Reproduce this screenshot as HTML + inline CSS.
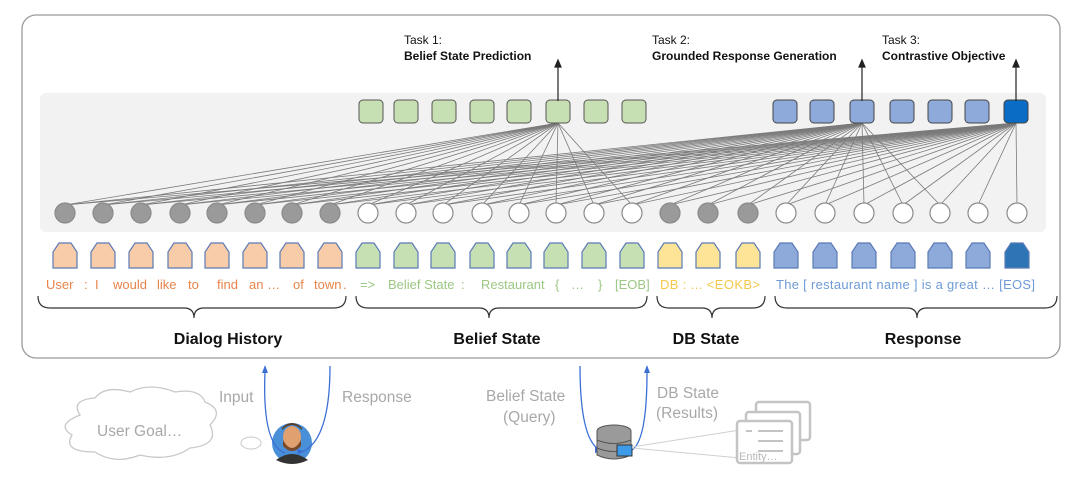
<!DOCTYPE html>
<html><head><meta charset="utf-8"><style>
html,body{margin:0;padding:0;background:#fff;}
svg{display:block;font-family:"Liberation Sans",sans-serif;}
</style></head><body>
<svg id="s" width="1080" height="479" viewBox="0 0 1080 479" xmlns="http://www.w3.org/2000/svg">
<rect x="22" y="15" width="1038" height="343" rx="14" fill="#fff" stroke="#9a9a9a" stroke-width="1.3"/>
<rect x="40" y="93" width="1006" height="139" rx="6" fill="#f2f2f2"/>
<g id="lines" stroke="#7a7a7a" stroke-width="0.8" fill="none"></g>
<g id="shapes"></g>
<g stroke="#222" stroke-width="1.2" fill="#222">
<line x1="558" y1="101" x2="558" y2="66"/><path d="M555,67 L558,60 L561,67Z"/>
<line x1="862" y1="101" x2="862" y2="66"/><path d="M859,67 L862,60 L865,67Z"/>
<line x1="1016" y1="101" x2="1016" y2="66"/><path d="M1013,67 L1016,60 L1019,67Z"/>
</g>
<g font-size="12" fill="#111">
<text x="404" y="44">Task 1:</text><text x="404" y="60" font-weight="bold">Belief State Prediction</text>
<text x="652" y="44">Task 2:</text><text x="652" y="60" font-weight="bold">Grounded Response Generation</text>
<text x="882" y="44">Task 3:</text><text x="882" y="60" font-weight="bold">Contrastive Objective</text>
</g>
<g font-size="13">
<text y="289" fill="#e8844a" xml:space="preserve"><tspan x="46">User</tspan><tspan x="84">:</tspan><tspan x="95">I</tspan><tspan x="113">would</tspan><tspan x="157">like</tspan><tspan x="188">to</tspan><tspan x="217">find</tspan><tspan x="249">an …</tspan><tspan x="293">of</tspan><tspan x="314">town</tspan><tspan x="343">.</tspan></text>
<text y="289" fill="#9cc784" xml:space="preserve"><tspan x="360">=&gt;</tspan><tspan x="388">Belief State</tspan><tspan x="461">:</tspan><tspan x="481">Restaurant</tspan><tspan x="555">{</tspan><tspan x="571">…</tspan><tspan x="598">}</tspan><tspan x="615">[EOB]</tspan></text>
<text x="660" y="289" fill="#f3c94c" textLength="100" lengthAdjust="spacing">DB : ... &lt;EOKB&gt;</text>
<text x="776" y="289" fill="#6f9bd6" textLength="259" lengthAdjust="spacing">The [ restaurant name ] is a great  … [EOS]</text>
</g>
<g stroke="#333" stroke-width="1.2" fill="none">
<path d="M38,296 Q38,308 50,308 L184,308 Q194,308 194,318 Q194,308 204,308 L334,308 Q346,308 346,296"/>
<path d="M356,296 Q356,308 368,308 L479,308 Q489,308 489,318 Q489,308 499,308 L635,308 Q647,308 647,296"/>
<path d="M657,296 Q657,308 669,308 L702,308 Q712,308 712,318 Q712,308 722,308 L753,308 Q765,308 765,296"/>
<path d="M775,296 Q775,308 787,308 L907,308 Q917,308 917,318 Q917,308 927,308 L1045,308 Q1057,308 1057,296"/>
</g>
<g font-size="16" font-weight="bold" fill="#111" text-anchor="middle">
<text x="228" y="344">Dialog History</text>
<text x="497" y="344">Belief State</text>
<text x="706" y="344">DB State</text>
<text x="923" y="344">Response</text>
</g>
<g font-size="15.5" fill="#a8a8a8">
<text x="219" y="402">Input</text>
<text x="342" y="402">Response</text>
<text x="486" y="401">Belief State</text>
<text x="503" y="422">(Query)</text>
<text x="657" y="398">DB State</text>
<text x="656" y="418">(Results)</text>
</g>
<path d="M80,415 Q70,400 95,398 Q105,385 130,392 Q150,382 175,392 Q200,388 205,402 Q225,410 210,425 Q220,445 190,448 Q170,462 140,455 Q115,465 95,452 Q62,452 72,435 Q55,425 80,415Z" fill="#fff" stroke="#c8c8c8" stroke-width="1.3"/>
<text x="97" y="436" font-size="15.5" fill="#a8a8a8">User Goal…</text>
<ellipse cx="251" cy="443" rx="10" ry="6" fill="#fff" stroke="#c8c8c8"/>
<circle cx="292" cy="443" r="20" fill="#4a90d9"/>
<ellipse cx="292" cy="437" rx="9" ry="11" fill="#e0a070"/>
<path d="M282,430 Q292,420 302,430 L302,428 Q292,418 282,428Z" fill="#5a3a22"/>
<path d="M283,440 Q292,456 301,440 L301,446 Q292,456 283,446Z" fill="#7a4a2a"/>
<path d="M276,460 Q292,448 308,460 Q300,464 292,464 Q284,464 276,460Z" fill="#333"/>
<g stroke="#3b6fd4" stroke-width="1.3" fill="none">
<path d="M265,372 Q262,445 285,453"/><path d="M330,366 Q330,440 302,452"/>
<path d="M580,366 Q580,440 600,450"/><path d="M632,450 Q647,440 647,372"/>
</g>
<g fill="#3b6fd4"><path d="M262,373 L265,365 L268,373Z"/><path d="M644,373 L647,365 L650,373Z"/><path d="M297,449 L304,451 L298,455Z"/><path d="M595,446 L602,451 L595,453Z"/></g>
<g fill="#9a9a9a" stroke="#555" stroke-width="1"><ellipse cx="614" cy="431" rx="17" ry="6"/><path d="M597,431 V455 Q614,463 631,455 V431"/><path d="M597,440 Q614,447 631,440 M597,448 Q614,455 631,448" fill="none"/></g>
<rect x="617" y="445" width="15" height="11" fill="#3d9be9" stroke="#333"/>
<g stroke="#d0d0d0" stroke-width="1" fill="none"><line x1="632" y1="447" x2="740" y2="430"/><line x1="632" y1="448" x2="740" y2="458"/></g>
<g fill="#fff" stroke="#c4c4c4" stroke-width="2.5">
<rect x="756" y="402" width="54" height="38" rx="3"/><rect x="746" y="412" width="54" height="42" rx="3"/><rect x="737" y="421" width="55" height="42" rx="3"/>
</g>
<g stroke="#c4c4c4" stroke-width="2"><line x1="746" y1="431" x2="752" y2="431"/><line x1="758" y1="431" x2="783" y2="431"/><line x1="758" y1="441" x2="783" y2="441"/><line x1="758" y1="451" x2="783" y2="451"/></g>
<text x="739" y="460" font-size="11" fill="#b8b8b8">Entity…</text>
<script>
var NS="http://www.w3.org/2000/svg";
function el(p,t,a){var e=document.createElementNS(NS,t);for(var k in a)e.setAttribute(k,a[k]);p.appendChild(e);return e;}
var S=document.getElementById('shapes'),L=document.getElementById('lines');
var cx=[65,103,141,180,217,255,292,330,368,406,443,482,519,556,594,632,670,708,748,786,825,864,903,940,978,1017];
var gray=function(i){return i<8||(i>=16&&i<=18);};
var targets=[[558,15],[862,23],[1016,25]];
targets.forEach(function(t){for(var i=0;i<=t[1];i++){el(L,'line',{x1:cx[i],y1:205,x2:t[0],y2:123});}});
cx.forEach(function(x,i){el(S,'circle',{cx:x,cy:213,r:10,fill:gray(i)?'#9a9a9a':'#fff',stroke:'#8a8a8a','stroke-width':1.2});
var f=i<8?'#f8cba9':i<16?'#c6e0b4':i<19?'#fee497':(i==25?'#2e75b6':'#8eaadb');
el(S,'path',{d:'M'+(x-12)+',268 V252 L'+(x-6)+',243 H'+(x+6)+' L'+(x+12)+',252 V268Z',fill:f,stroke:'#5b7bb5','stroke-width':1.2});});
[371,406,444,482,519,558,596,634].forEach(function(x){el(S,'rect',{x:x-12,y:100,width:24,height:23,rx:4,fill:'#c6e0b4',stroke:'#555'});});
[785,822,862,902,940,977,1016].forEach(function(x,i){el(S,'rect',{x:x-12,y:100,width:24,height:23,rx:4,fill:i==6?'#0a6cc4':'#8eaadb',stroke:'#444'});});
</script>
</svg>
</body></html>
